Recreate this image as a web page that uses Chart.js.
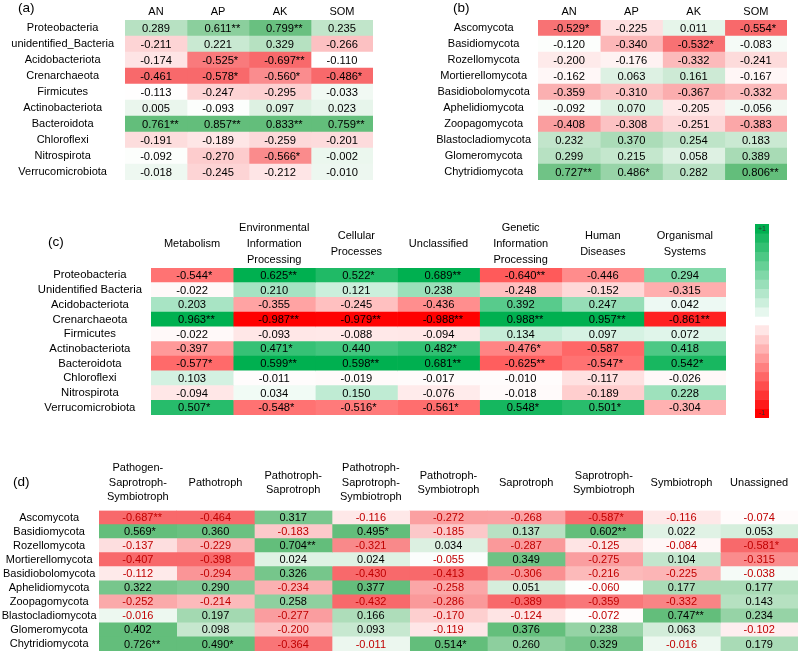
<!DOCTYPE html>
<html>
<head>
<meta charset="utf-8">
<script src="https://cdn.jsdelivr.net/npm/chart.js@4.4.1/dist/chart.umd.min.js"></script>
<style>
html,body{margin:0;padding:0;background:#fff;}
#wrap{position:relative;width:800px;height:652px;overflow:hidden;font-family:"Liberation Sans",Arial,sans-serif;}
canvas{position:absolute;}
.tag{position:absolute;font-size:13.5px;line-height:16px;color:#000;white-space:nowrap;}
</style>
</head>
<body>
<div id="wrap">
  <canvas id="ca" width="400" height="186" style="left:0;top:0;width:400px;height:186px"></canvas>
  <canvas id="cb" width="400" height="186" style="left:400px;top:0;width:400px;height:186px"></canvas>
  <canvas id="cc" width="740" height="232" style="left:0;top:190px;width:740px;height:232px"></canvas>
  <canvas id="cbar" width="35" height="205" style="left:745px;top:219px;width:35px;height:205px"></canvas>
  <canvas id="cd" width="800" height="212" style="left:0;top:440px;width:800px;height:212px"></canvas>
  <div class="tag" style="left:18px;top:0">(a)</div>
  <div class="tag" style="left:453px;top:0">(b)</div>
  <div class="tag" style="left:48px;top:233.5px">(c)</div>
  <div class="tag" style="left:13px;top:473.5px">(d)</div>
</div>
<script>
// ---------------- Panel (a) ----------------
const aRows = ['Proteobacteria','unidentified_Bacteria','Acidobacteriota','Crenarchaeota','Firmicutes','Actinobacteriota','Bacteroidota','Chloroflexi','Nitrospirota','Verrucomicrobiota'];
const aCols = ['AN','AP','AK','SOM'];
const aAN  = ['0.289','-0.211','-0.174','-0.461','-0.113','0.005','0.761**','-0.191','-0.092','-0.018'];
const aAP  = ['0.611**','0.221','-0.525*','-0.578*','-0.247','-0.093','0.857**','-0.189','-0.270','-0.245'];
const aAK  = ['0.799**','0.329','-0.697**','-0.560*','-0.295','0.097','0.833**','-0.259','-0.566*','-0.212'];
const aSOM = ['0.235','-0.266','-0.110','-0.486*','-0.033','0.023','0.759**','-0.201','-0.002','-0.010'];

// ---------------- Panel (b) ----------------
const bRows = ['Ascomycota','Basidiomycota','Rozellomycota','Mortierellomycota','Basidiobolomycota','Aphelidiomycota','Zoopagomycota','Blastocladiomycota','Glomeromycota','Chytridiomycota'];
const bCols = ['AN','AP','AK','SOM'];
const bAN  = ['-0.529*','-0.120','-0.200','-0.162','-0.359','-0.092','-0.408','0.232','0.299','0.727**'];
const bAP  = ['-0.225','-0.340','-0.176','0.063','-0.310','0.070','-0.308','0.370','0.215','0.486*'];
const bAK  = ['0.011','-0.532*','-0.332','0.161','-0.367','-0.205','-0.251','0.254','0.058','0.282'];
const bSOM = ['-0.554*','-0.083','-0.241','-0.167','-0.332','-0.056','-0.383','0.183','0.389','0.806**'];

// ---------------- Panel (c) ----------------
const cRows = ['Proteobacteria','Unidentified Bacteria','Acidobacteriota','Crenarchaeota','Firmicutes','Actinobacteriota','Bacteroidota','Chloroflexi','Nitrospirota','Verrucomicrobiota'];
const cCols = [['Metabolism'],['Environmental','Information','Processing'],['Cellular','Processes'],['Unclassified'],['Genetic','Information','Processing'],['Human','Diseases'],['Organismal','Systems']];
const cMetabolism   = ['-0.544*','-0.022','0.203','0.963**','-0.022','-0.397','-0.577*','0.103','-0.094','0.507*'];
const cEnvInfo      = ['0.625**','0.210','-0.355','-0.987**','-0.093','0.471*','0.599**','-0.011','0.034','-0.548*'];
const cCellular     = ['0.522*','0.121','-0.245','-0.979**','-0.088','0.440','0.598**','-0.019','0.150','-0.516*'];
const cUnclassified = ['0.689**','0.238','-0.436','-0.988**','-0.094','0.482*','0.681**','-0.017','-0.076','-0.561*'];
const cGenetic      = ['-0.640**','-0.248','0.392','0.988**','0.134','-0.476*','-0.625**','-0.010','-0.018','0.548*'];
const cHuman        = ['-0.446','-0.152','0.247','0.957**','0.097','-0.587','-0.547*','-0.117','-0.189','0.501*'];
const cOrganismal   = ['0.294','-0.315','0.042','-0.861**','0.072','0.418','0.542*','-0.026','0.228','-0.304'];
const cbGreenSteps = [1.0,0.9,0.8,0.7,0.6,0.5,0.4,0.3,0.2,0.1];
const cbRedSteps   = [-0.1,-0.2,-0.3,-0.4,-0.5,-0.6,-0.7,-0.8,-0.9,-1.0];

// ---------------- Panel (d) ----------------
const dRows = ['Ascomycota','Basidiomycota','Rozellomycota','Mortierellomycota','Basidiobolomycota','Aphelidiomycota','Zoopagomycota','Blastocladiomycota','Glomeromycota','Chytridiomycota'];
const dCols = [['Pathogen-','Saprotroph-','Symbiotroph'],['Pathotroph'],['Pathotroph-','Saprotroph'],['Pathotroph-','Saprotroph-','Symbiotroph'],['Pathotroph-','Symbiotroph'],['Saprotroph'],['Saprotroph-','Symbiotroph'],['Symbiotroph'],['Unassigned']];
const dPathSapSymb   = ['-0.687**','0.569*','-0.137','-0.407','-0.112','0.322','-0.252','-0.016','0.402','0.726**'];
const dPathotroph    = ['-0.464','0.360','-0.229','-0.398','-0.294','0.290','-0.214','0.197','0.098','0.490*'];
const dPathSap       = ['0.317','-0.183','0.704**','0.024','0.326','-0.234','0.258','-0.277','-0.200','-0.364'];
const dPathSapSym    = ['-0.116','0.495*','-0.321','0.024','-0.430','0.377','-0.432','0.166','0.093','-0.011'];
const dPathSym       = ['-0.272','-0.185','0.034','-0.055','-0.413','-0.258','-0.286','-0.170','-0.119','0.514*'];
const dSaprotroph    = ['-0.268','0.137','-0.287','0.349','-0.306','0.051','-0.389','-0.124','0.376','0.260'];
const dSapSym        = ['-0.587*','0.602**','-0.125','-0.275','-0.216','-0.060','-0.359','-0.072','0.238','0.329'];
const dSymbiotroph   = ['-0.116','0.022','-0.084','0.104','-0.225','0.177','-0.332','0.747**','0.063','-0.016'];
const dUnassigned    = ['-0.074','0.053','-0.581*','-0.315','-0.038','0.177','0.143','0.234','-0.102','0.179'];

// ---------------- helpers ----------------
const FONT = '"Liberation Sans", Arial, sans-serif';
Chart.defaults.font.family = FONT;
Chart.defaults.color = '#000';

function parseCell(s){
  const m = s.match(/^(-?[\d.]+)(\**)$/);
  return {num: m[1], stars: m[2], v: parseFloat(m[1])};
}
function pct(arr, p){
  const s = [...arr].sort((a,b)=>a-b);
  const pos = (s.length-1)*p, i = Math.floor(pos), f = pos - i;
  return i+1 < s.length ? s[i] + f*(s[i+1]-s[i]) : s[i];
}
function mix(c, t){
  t = Math.max(0, Math.min(1, t));
  return 'rgb(' + Math.round(255+(c[0]-255)*t) + ',' + Math.round(255+(c[1]-255)*t) + ',' + Math.round(255+(c[2]-255)*t) + ')';
}
const XL_RED = [248,105,107], XL_GREEN = [99,190,123];
function excel3(lo, mid, hi){
  return v => v <= mid ? mix(XL_RED, (mid - v)/(mid - lo)) : mix(XL_GREEN, (v - mid)/(hi - mid));
}
const C_RED = [255,0,0], C_GREEN = [0,176,80];

function heatmap(id, cfg){
  const cells = cfg.columns.map(col => col.map(parseCell));
  const n = cells.length;
  const datasets = cells.map((col, c) => {
    const fn = cfg.colorFnFor ? cfg.colorFnFor(col.map(p => p.v)) : cfg.colorFn;
    return {
      data: col.map(() => [c, c+1]),
      backgroundColor: col.map(p => fn(p.v)),
      borderWidth: 0,
      barPercentage: 1,
      categoryPercentage: 1,
      grouped: false
    };
  });
  const valuePlugin = {
    id: 'cellValues',
    afterDatasetsDraw(chart){
      const {ctx} = chart, x = chart.scales.x, y = chart.scales.y;
      ctx.save();
      ctx.font = cfg.valueSize + 'px ' + FONT;
      ctx.textBaseline = 'middle';
      cells.forEach((col, c) => col.forEach((p, r) => {
        const px = x.getPixelForValue(c + 0.5), py = y.getPixelForValue(r) + 0.5;
        ctx.fillStyle = cfg.valueColor(p.v);
        ctx.textAlign = 'center';
        ctx.fillText(p.num, px, py);
        if (p.stars){
          const w = ctx.measureText(p.num).width;
          ctx.textAlign = 'left';
          ctx.fillText(p.stars, px + w/2, py);
        }
      }));
      ctx.restore();
    }
  };
  return new Chart(document.getElementById(id), {
    type: 'bar',
    data: {labels: cfg.rows, datasets},
    options: {
      responsive: false, animation: false, devicePixelRatio: 1,
      indexAxis: 'y',
      layout: {padding: cfg.padding},
      plugins: {legend: {display: false}, tooltip: {enabled: false}},
      scales: {
        x: {type: 'linear', min: 0, max: n, display: false},
        x2: {
          type: 'category', position: 'top', labels: cfg.cols, offset: true,
          grid: {display: false, drawTicks: false}, border: {display: false},
          ticks: {autoSkip: false, maxRotation: 0, minRotation: 0, padding: cfg.headerPad,
                  crossAlign: cfg.headerCross, font: cfg.headerFont, color: '#000'},
          afterFit: s => { s.height = cfg.xHeight; s.paddingLeft = 0; s.paddingRight = 0; }
        },
        y: {
          type: 'category', offset: true,
          grid: {display: false, drawTicks: false}, border: {display: false},
          ticks: {autoSkip: false, crossAlign: 'center', padding: cfg.tickPad, font: cfg.labelFont, color: '#000'},
          afterFit: s => { s.width = cfg.yWidth; s.paddingTop = 0; s.paddingBottom = 0; }
        }
      }
    },
    plugins: [valuePlugin]
  });
}

// ---------- (a) : colour scale per column, midpoint = median of the table ----------
const aCols4 = [aAN, aAP, aAK, aSOM];
const aAll = aCols4.flat().map(s => parseCell(s).v);
const aMid = pct(aAll, 0.5);
heatmap('ca', {
  rows: aRows, cols: aCols, columns: aCols4,
  colorFnFor: colVals => excel3(Math.min(...colVals), aMid, Math.max(...colVals)),
  valueColor: () => '#000', valueSize: 11.2,
  labelFont: {size: 11}, headerFont: {size: 11}, headerCross: 'near', headerPad: 1.5,
  xHeight: 20, yWidth: 125, tickPad: 11,
  padding: {left: 0, right: 27, top: 0, bottom: 6}
});

// ---------- (b) ----------
const bCols4 = [bAN, bAP, bAK, bSOM];
const bAll = bCols4.flat().map(s => parseCell(s).v);
heatmap('cb', {
  rows: bRows, cols: bCols, columns: bCols4,
  colorFn: excel3(Math.min(...bAll), pct(bAll,0.5), Math.max(...bAll)),
  valueColor: () => '#000', valueSize: 11.2,
  labelFont: {size: 11}, headerFont: {size: 11}, headerCross: 'near', headerPad: 1.5,
  xHeight: 20, yWidth: 138, tickPad: 7,
  padding: {left: 0, right: 13, top: 0, bottom: 6}
});

// ---------- (c) ----------
const cCols7 = [cMetabolism, cEnvInfo, cCellular, cUnclassified, cGenetic, cHuman, cOrganismal];
const cAll = cCols7.flat().map(s => parseCell(s).v);
const cMin = Math.min(...cAll), cHi = pct(cAll, 0.9);
heatmap('cc', {
  rows: cRows, cols: cCols, columns: cCols7,
  colorFn: v => v < 0 ? mix(C_RED, v / cMin) : mix(C_GREEN, v / cHi),
  valueColor: () => '#000', valueSize: 11.2,
  labelFont: {size: 11.3}, headerFont: {size: 11, lineHeight: 1.45}, headerCross: 'center', headerPad: 7.7,
  xHeight: 78, yWidth: 151, tickPad: 9,
  padding: {left: 0, right: 14, top: 0, bottom: 7}
});

// colour bar for (c)
const cbSteps = [...cbGreenSteps, ...cbRedSteps];
new Chart(document.getElementById('cbar'), {
  type: 'bar',
  data: {
    labels: [''],
    datasets: cbSteps.map(v => ({
      data: [[v - 0.1, v]],
      backgroundColor: v > 0 ? mix(C_GREEN, v) : mix(C_RED, -v),
      borderWidth: 0, barPercentage: 1, categoryPercentage: 1, grouped: false
    }))
  },
  options: {
    responsive: false, animation: false, devicePixelRatio: 1,
    layout: {padding: {left: 10, right: 11, top: 5, bottom: 6}},
    plugins: {legend: {display: false}, tooltip: {enabled: false}},
    scales: {
      x: {display: false},
      y: {display: false, min: -1.1, max: 1.0}
    }
  },
  plugins: [{
    id: 'cbLabels',
    afterDatasetsDraw(chart){
      const {ctx} = chart, x = chart.scales.x, y = chart.scales.y;
      const cx = x.getPixelForValue(0);
      ctx.save();
      ctx.font = '7px ' + FONT;
      ctx.fillStyle = '#333';
      ctx.textAlign = 'center';
      ctx.textBaseline = 'middle';
      ctx.fillText('+1', cx, y.getPixelForValue(cbGreenSteps[0] - 0.05));
      ctx.fillText('-1', cx, y.getPixelForValue(cbRedSteps[cbRedSteps.length-1] - 0.05));
      ctx.restore();
    }
  }]
});

// ---------- (d) ----------
const dCols9 = [dPathSapSymb, dPathotroph, dPathSap, dPathSapSym, dPathSym, dSaprotroph, dSapSym, dSymbiotroph, dUnassigned];
const dAll = dCols9.flat().map(s => parseCell(s).v);
heatmap('cd', {
  rows: dRows, cols: dCols, columns: dCols9,
  colorFn: excel3(pct(dAll,0.1), pct(dAll,0.5), pct(dAll,0.9)),
  valueColor: v => v < 0 ? '#c00000' : '#000', valueSize: 11,
  labelFont: {size: 11}, headerFont: {size: 11, lineHeight: 1.32}, headerCross: 'center', headerPad: 13.2,
  xHeight: 70.5, yWidth: 99, tickPad: 2.5,
  padding: {left: 0, right: 2, top: 0, bottom: 1}
});
</script>
</body>
</html>
